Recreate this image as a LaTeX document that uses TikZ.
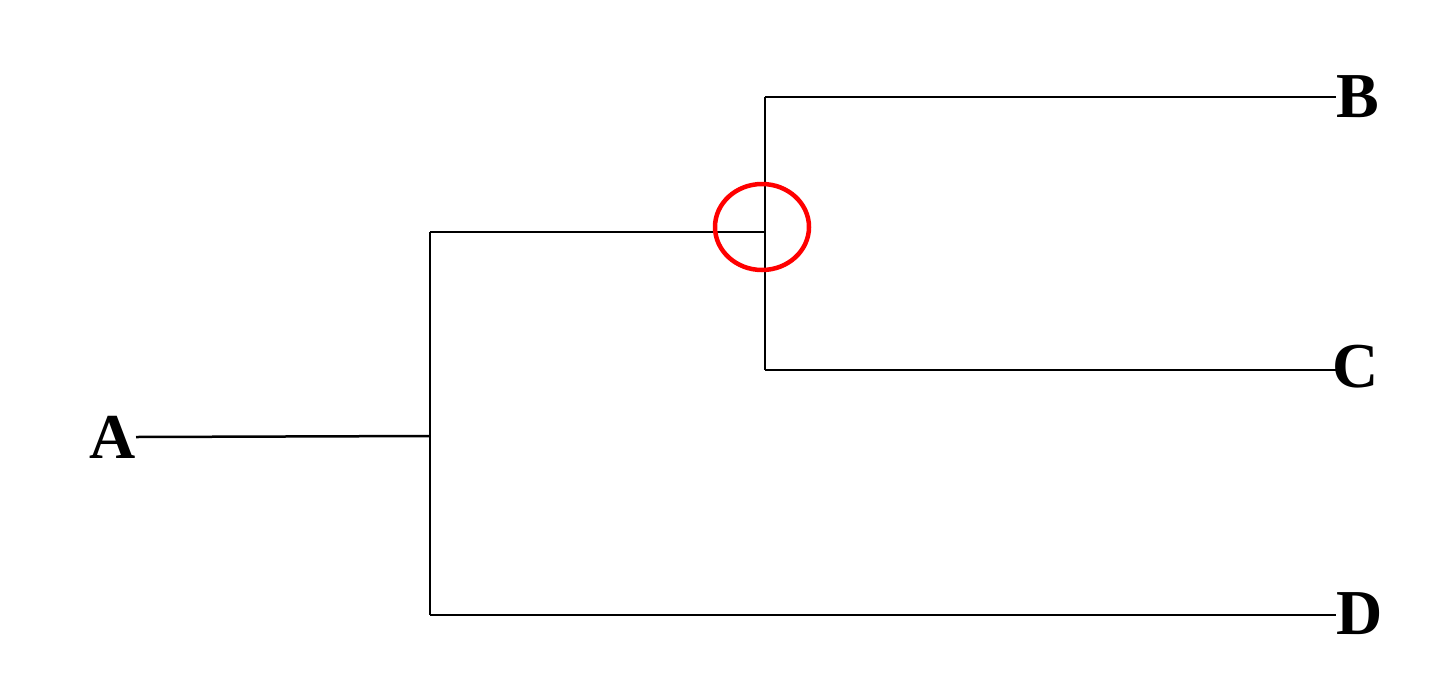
\documentclass[tikz,border=0pt]{standalone}
\usepackage{fontspec}
\setmainfont{Liberation Serif}
\begin{document}
\begin{tikzpicture}[x=1pt,y=-1pt,
  br/.style={line width=2.5pt,black},
  lab/.style={inner sep=0pt,font=\fontsize{64}{64}\selectfont\bfseries}]
\useasboundingbox (0,0) rectangle (1440,694);
\node[lab,anchor=east] (A) at (136,437) {A};
\node[lab,anchor=west] (B) at (1336,97) {B};
\node[lab,anchor=west] (C) at (1332,367) {C};
\node[lab,anchor=west] (D) at (1336,614) {D};
\coordinate (r1) at (430,436);
\coordinate (r1t) at (430,232);
\coordinate (r1b) at (430,615);
\coordinate (r2) at (765,232);
\coordinate (r2t) at (765,97);
\coordinate (r2b) at (765,370);
\draw[br] (A.east) -- (r1);
\draw[br] (r1t) -- (r1b);
\draw[br] (r1t) -- (r2);
\draw[br] (r2t) -- (r2b);
\draw[br] (r2t) -- (B.west |- r2t);
\draw[br] (r2b) -- (B.west |- r2b);
\draw[br] (r1b) -- (B.west |- r1b);
\draw[red,line width=4.5pt] (762,227) ellipse [x radius=47,y radius=43];
\end{tikzpicture}
\end{document}
